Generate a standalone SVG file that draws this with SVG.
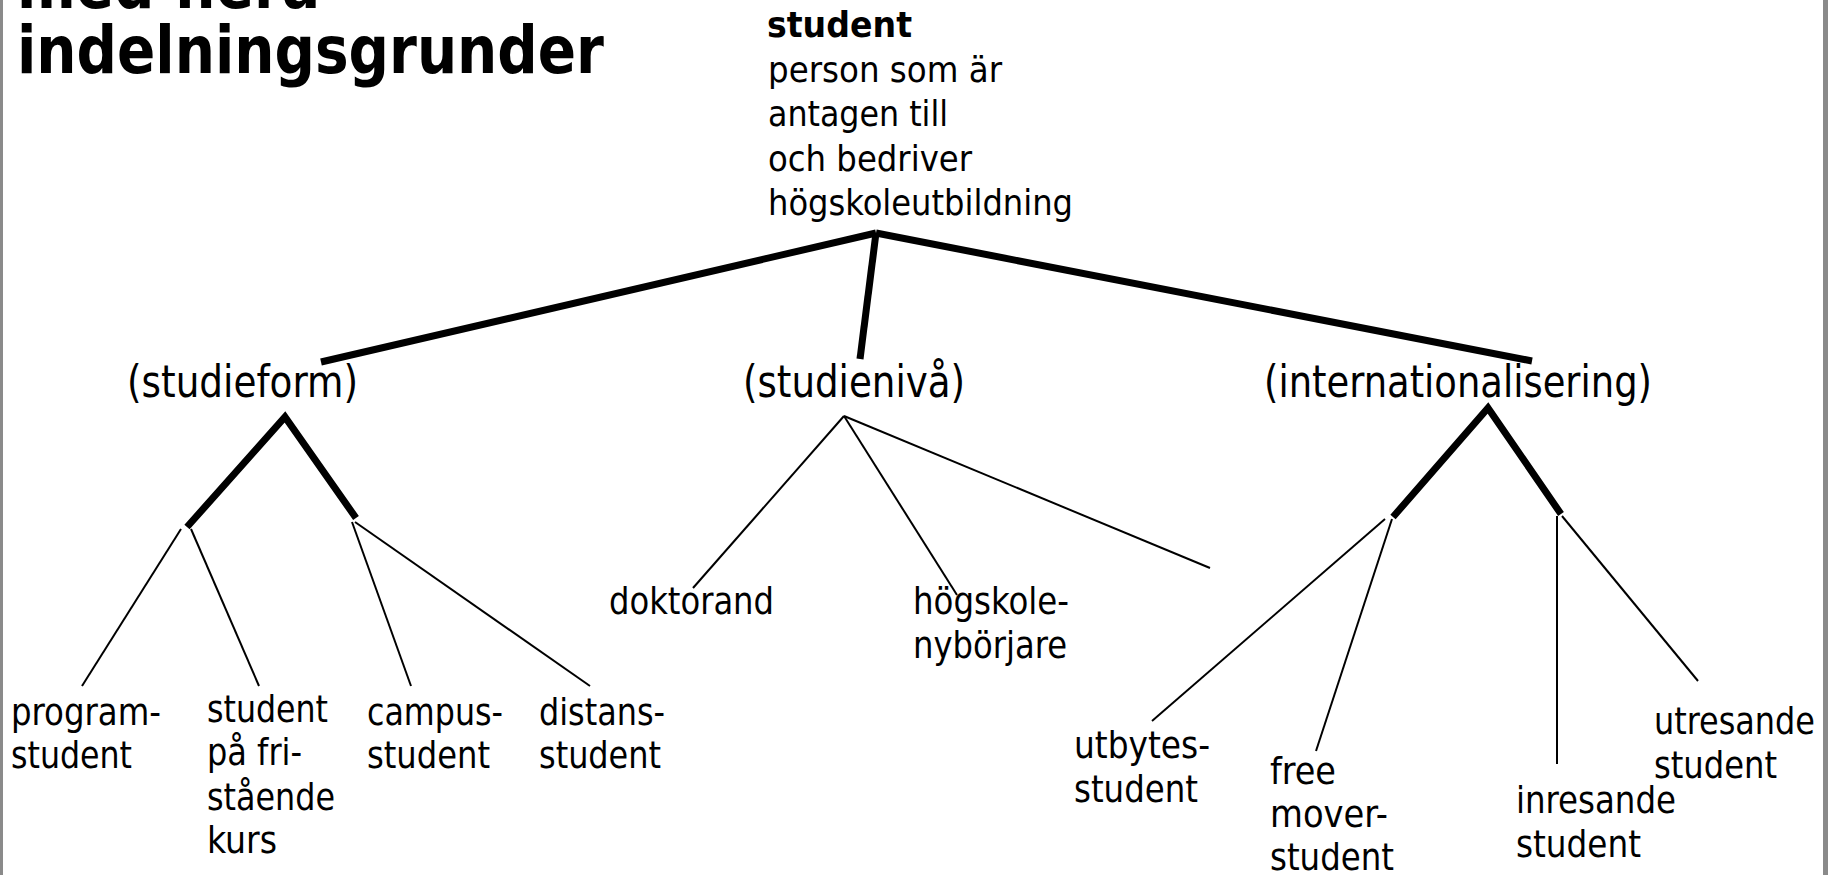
<svg xmlns="http://www.w3.org/2000/svg" width="1829" height="875" viewBox="0 0 1829 875">
<style>
  text { font-family: "DejaVu Sans Condensed", "DejaVu Sans", sans-serif; fill: #000; }
  .title { font-size: 65px; font-weight: bold; }
  .def { font-size: 36px; }
  .defb { font-size: 36px; font-weight: bold; }
  .cat { font-size: 44px; }
  .leaf { font-size: 38px; }
  .thick { stroke: #000; stroke-width: 7; fill: none; stroke-linecap: butt; stroke-linejoin: miter; }
  .thin { stroke: #000; stroke-width: 2; fill: none; }
  .border { fill: #8a8a8a; }
</style>
<rect x="0" y="0" width="1829" height="875" fill="#fff"/>
<rect class="border" x="0" y="0" width="3" height="875"/>
<rect class="border" x="1823" y="0" width="5" height="875"/>

<g id="title">
  <text class="title" x="17" y="8" textLength="303" lengthAdjust="spacingAndGlyphs">med flera</text>
  <text class="title" x="17" y="73" textLength="587" lengthAdjust="spacingAndGlyphs">indelningsgrunder</text>
</g>

<g id="connectors">
  <line class="thick" x1="876" y1="233" x2="321" y2="362"/>
  <line class="thick" x1="876" y1="233" x2="860" y2="359"/>
  <line class="thick" x1="876" y1="233" x2="1532" y2="361"/>
  <polyline class="thick" points="187,527 285,417 356,518"/>
  <polyline class="thick" points="1393,517 1488,408 1561,514"/>
  <line class="thin" x1="181" y1="529" x2="82" y2="686"/>
  <line class="thin" x1="191" y1="529" x2="259" y2="686"/>
  <line class="thin" x1="352" y1="522" x2="411" y2="686"/>
  <line class="thin" x1="355" y1="522" x2="590" y2="686"/>
  <line class="thin" x1="844" y1="416" x2="693" y2="588"/>
  <line class="thin" x1="844" y1="416" x2="957" y2="595"/>
  <line class="thin" x1="844" y1="416" x2="1210" y2="568"/>
  <line class="thin" x1="1385" y1="519" x2="1152" y2="721"/>
  <line class="thin" x1="1392" y1="519" x2="1316" y2="751"/>
  <line class="thin" x1="1557" y1="516" x2="1557" y2="764"/>
  <line class="thin" x1="1562" y1="516" x2="1698" y2="681"/>
</g>

<g id="root">
  <text class="defb" x="767" y="37" textLength="145" lengthAdjust="spacingAndGlyphs">student</text>
  <text class="def" x="768" y="82" textLength="234" lengthAdjust="spacingAndGlyphs">person som är</text>
  <text class="def" x="768" y="126" textLength="180" lengthAdjust="spacingAndGlyphs">antagen till</text>
  <text class="def" x="768" y="171" textLength="204" lengthAdjust="spacingAndGlyphs">och bedriver</text>
  <text class="def" x="768" y="215" textLength="305" lengthAdjust="spacingAndGlyphs">högskoleutbildning</text>
</g>

<g id="studieform">
  <text class="cat" x="127" y="397" textLength="231" lengthAdjust="spacingAndGlyphs">(studieform)</text>
</g>
<g id="studieniva">
  <text class="cat" x="743" y="397" textLength="222" lengthAdjust="spacingAndGlyphs">(studienivå)</text>
</g>
<g id="internationalisering">
  <text class="cat" x="1264" y="397" textLength="388" lengthAdjust="spacingAndGlyphs">(internationalisering)</text>
</g>

<g id="programstudent">
  <text class="leaf" x="11" y="725" textLength="150" lengthAdjust="spacingAndGlyphs">program-</text>
  <text class="leaf" x="11" y="768" textLength="121" lengthAdjust="spacingAndGlyphs">student</text>
</g>
<g id="fristaende">
  <text class="leaf" x="207" y="722" textLength="121" lengthAdjust="spacingAndGlyphs">student</text>
  <text class="leaf" x="207" y="765" textLength="95" lengthAdjust="spacingAndGlyphs">på fri-</text>
  <text class="leaf" x="207" y="810" textLength="128" lengthAdjust="spacingAndGlyphs">stående</text>
  <text class="leaf" x="207" y="853" textLength="70" lengthAdjust="spacingAndGlyphs">kurs</text>
</g>
<g id="campusstudent">
  <text class="leaf" x="367" y="725" textLength="136" lengthAdjust="spacingAndGlyphs">campus-</text>
  <text class="leaf" x="367" y="768" textLength="123" lengthAdjust="spacingAndGlyphs">student</text>
</g>
<g id="distansstudent">
  <text class="leaf" x="539" y="725" textLength="126" lengthAdjust="spacingAndGlyphs">distans-</text>
  <text class="leaf" x="539" y="768" textLength="122" lengthAdjust="spacingAndGlyphs">student</text>
</g>
<g id="doktorand">
  <text class="leaf" x="609" y="614" textLength="165" lengthAdjust="spacingAndGlyphs">doktorand</text>
</g>
<g id="hogskolenyborjare">
  <text class="leaf" x="913" y="614" textLength="156" lengthAdjust="spacingAndGlyphs">högskole-</text>
  <text class="leaf" x="913" y="658" textLength="154" lengthAdjust="spacingAndGlyphs">nybörjare</text>
</g>
<g id="utbytesstudent">
  <text class="leaf" x="1074" y="758" textLength="136" lengthAdjust="spacingAndGlyphs">utbytes-</text>
  <text class="leaf" x="1074" y="802" textLength="124" lengthAdjust="spacingAndGlyphs">student</text>
</g>
<g id="freemover">
  <text class="leaf" x="1270" y="784" textLength="66" lengthAdjust="spacingAndGlyphs">free</text>
  <text class="leaf" x="1270" y="827" textLength="118" lengthAdjust="spacingAndGlyphs">mover-</text>
  <text class="leaf" x="1270" y="870" textLength="124" lengthAdjust="spacingAndGlyphs">student</text>
</g>
<g id="inresande">
  <text class="leaf" x="1516" y="813" textLength="160" lengthAdjust="spacingAndGlyphs">inresande</text>
  <text class="leaf" x="1516" y="857" textLength="125" lengthAdjust="spacingAndGlyphs">student</text>
</g>
<g id="utresande">
  <text class="leaf" x="1654" y="734" textLength="161" lengthAdjust="spacingAndGlyphs">utresande</text>
  <text class="leaf" x="1654" y="778" textLength="123" lengthAdjust="spacingAndGlyphs">student</text>
</g>
</svg>
